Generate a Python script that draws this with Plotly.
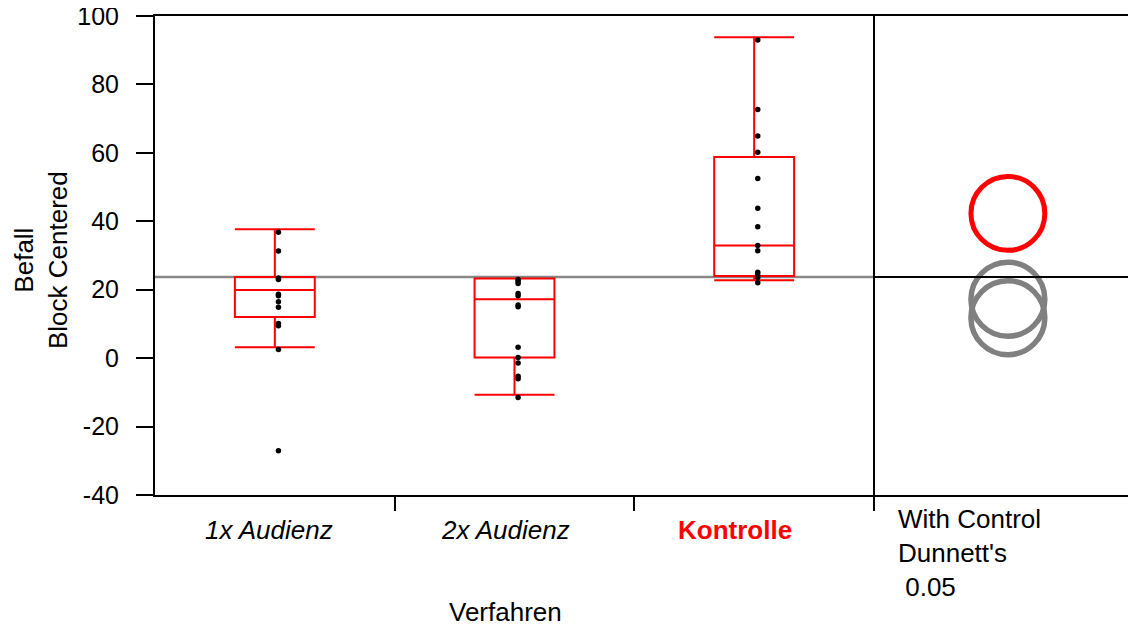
import plotly.graph_objects as go

# ---- data ----
categories = ["1x Audienz", "2x Audienz", "Kontrolle"]
cat_labels = ["<i>1x Audienz</i>", "<i>2x Audienz</i>", "<b>Kontrolle</b>"]
cat_colors = ["black", "black", "#FF0000"]

points_1x = [36.8, 31.3, 23.4, 23.0, 18.7, 18.2, 16.5, 14.9, 10.1, 9.5, 2.5, -27.1]
points_2x = [23.0, 22.5, 21.8, 18.9, 18.2, 15.5, 15.0, 3.2, 0.2, -1.4, -5.3, -6.0, -11.5]
points_ko = [93.0, 72.7, 64.9, 60.2, 52.5, 43.8, 38.4, 32.9, 31.4, 25.1, 24.3, 23.6, 22.0]

box_q1 = [12.0, 0.2, 24.0]
box_median = [19.9, 17.2, 32.9]
box_q3 = [23.7, 23.3, 58.8]
box_lowerfence = [3.2, -10.7, 22.8]
box_upperfence = [37.7, 23.3, 93.8]

grand_mean = 23.7

circle_centers = [11.8, 17.2, 42.3]
circle_radius = 10.8
circle_colors = ["#808080", "#808080", "#FF0000"]
circle_widths = [5.5, 5.5, 5]

y_ticks = [-40, -20, 0, 20, 40, 60, 80, 100]
y_ticktext = ["-40", "-20", "0", "20", "40", "60", "80", "100"]

# ---- layout geometry (page body has an 8px margin) ----
W, H = 1128, 618
ML, MR, MT = 147, 0, 8
PLOT_BOTTOM = 487
MB = H - PLOT_BOTTOM
plot_h = PLOT_BOTTOM - MT
plot_w = W - ML - MR
ymin, ymax = -40, 100
px_per_unit = plot_h / (ymax - ymin)
split = (866 - ML) / plot_w

FONT = "Liberation Sans, Arial, sans-serif"
FS = 25
FL = 26

fig = go.Figure()

for i in range(3):
    fig.add_trace(go.Box(
        x=[i], q1=[box_q1[i]], median=[box_median[i]], q3=[box_q3[i]],
        lowerfence=[box_lowerfence[i]], upperfence=[box_upperfence[i]],
        width=1/3, whiskerwidth=1, boxpoints=False,
        line=dict(color="#FF0000", width=2), fillcolor="rgba(0,0,0,0)",
        showlegend=False, hoverinfo="skip",
    ))

for i, pts in enumerate([points_1x, points_2x, points_ko]):
    fig.add_trace(go.Scatter(
        x=[i + 0.015] * len(pts), y=pts, mode="markers",
        marker=dict(color="black", size=5.5), showlegend=False, hoverinfo="skip",
    ))

for c, col, lw in zip(circle_centers, circle_colors, circle_widths):
    fig.add_trace(go.Scatter(
        x=[0.511], y=[c], xaxis="x2", yaxis="y", mode="markers",
        marker=dict(symbol="circle-open", size=2 * circle_radius * px_per_unit,
                    color=col, line=dict(color=col, width=lw)),
        showlegend=False, hoverinfo="skip",
    ))

shapes = [
    dict(type="line", xref="paper", yref="y", x0=0, x1=split, y0=grand_mean, y1=grand_mean,
         line=dict(color="#888888", width=2.5), layer="below"),
    dict(type="line", xref="paper", yref="y", x0=split, x1=1, y0=grand_mean, y1=grand_mean,
         line=dict(color="black", width=2)),
    dict(type="line", xref="paper", yref="paper", x0=split, x1=split, y0=0, y1=1,
         line=dict(color="black", width=2)),
]

def py(screen_y):
    return (PLOT_BOTTOM - (screen_y - 8)) / plot_h

def px(screen_x):
    return ((screen_x - 8) - ML) / plot_w

annotations = []
label_shift = [-6, -9, -19]
for i in range(3):
    annotations.append(dict(
        x=i, y=py(530), xref="x", yref="paper", text=cat_labels[i], showarrow=False,
        xshift=label_shift[i], font=dict(family=FONT, size=FL, color=cat_colors[i]),
        xanchor="center", yanchor="middle",
    ))
annotations.append(dict(
    x=px(505), y=py(612), xref="paper", yref="paper",
    text="Verfahren", showarrow=False, font=dict(family=FONT, size=FL, color="black"),
    xanchor="center", yanchor="middle",
))
annotations.append(dict(
    x=px(896), y=py(502), xref="paper", yref="paper",
    text="With Control<br>Dunnett's<br>\u00a00.05", showarrow=False, align="left",
    font=dict(family=FONT, size=FL, color="black"),
    xanchor="left", yanchor="top",
))
annotations.append(dict(
    x=px(41), y=py(260), xref="paper", yref="paper",
    text="Befall<br>Block Centered", showarrow=False, textangle=-90,
    font=dict(family=FONT, size=FL, color="black"),
    xanchor="center", yanchor="middle",
))

fig.update_layout(
    width=W, height=H,
    margin=dict(l=ML, r=MR, t=MT, b=MB, pad=0, autoexpand=False),
    paper_bgcolor="white", plot_bgcolor="white",
    font=dict(family=FONT, size=FS, color="black"),
    xaxis=dict(domain=[0, split], range=[-0.5, 2.5], tickvals=[0.5, 1.5, 2.5],
               ticktext=["", "", ""], ticks="outside", ticklen=14, tickwidth=2,
               tickcolor="black", showline=True, linecolor="black", linewidth=2,
               mirror=True, showgrid=False, zeroline=False, fixedrange=True,
               automargin=False),
    xaxis2=dict(domain=[split, 1], range=[0, 1], anchor="y", showticklabels=False,
                ticks="", showline=True, linecolor="black", linewidth=2, mirror=True,
                showgrid=False, zeroline=False, automargin=False),
    yaxis=dict(range=[ymin, ymax], tickvals=y_ticks, ticktext=y_ticktext,
               ticks="outside", ticklen=17, tickwidth=2, tickcolor="black",
               showline=True, linecolor="black", linewidth=2, showgrid=False,
               zeroline=False, ticklabelstandoff=12, ticklabeloverflow="allow",
               automargin=False,
               tickfont=dict(family=FONT, size=FS, color="black")),
    shapes=shapes, annotations=annotations,
)

fig.write_html("out.html")
